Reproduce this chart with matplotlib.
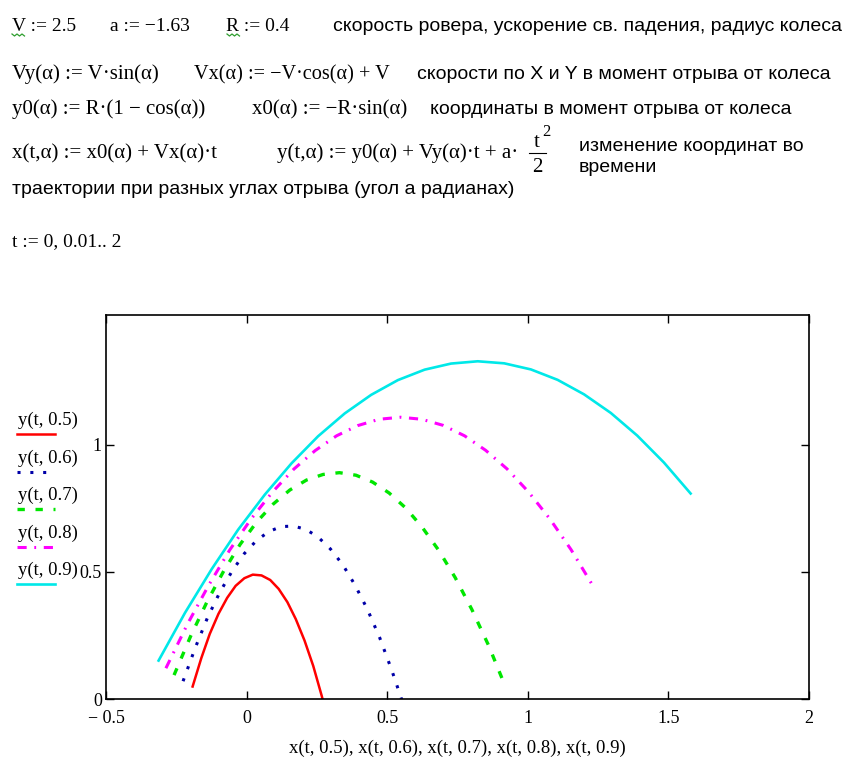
import matplotlib.pyplot as plt
from matplotlib.lines import Line2D

W, H = 863, 767

# trajectories, t = 0 .. 2 step 0.1
x_05 = [-0.192, -0.161, -0.131, -0.100, -0.069, -0.039, -0.008, 0.022, 0.053,
        0.084, 0.114, 0.145, 0.175, 0.206, 0.237, 0.267, 0.298]
y_05 = [0.049, 0.161, 0.256, 0.335, 0.398, 0.445, 0.475, 0.489, 0.486,
        0.468, 0.433, 0.381, 0.314, 0.230, 0.130, 0.013, -0.120]

x_06 = [-0.226, -0.182, -0.139, -0.095, -0.051, -0.008, 0.036, 0.080, 0.123,
        0.167, 0.211, 0.254, 0.298, 0.342, 0.385, 0.429, 0.473, 0.516, 0.560]
y_06 = [0.070, 0.203, 0.320, 0.420, 0.504, 0.572, 0.624, 0.659, 0.678,
        0.680, 0.667, 0.637, 0.590, 0.528, 0.449, 0.354, 0.242, 0.114, -0.030]

x_07 = [-0.258, -0.199, -0.140, -0.081, -0.023, 0.036, 0.095, 0.154, 0.213,
        0.272, 0.330, 0.389, 0.448, 0.507, 0.566, 0.624, 0.683, 0.742, 0.801,
        0.860, 0.918]
y_07 = [0.094, 0.247, 0.384, 0.504, 0.608, 0.696, 0.767, 0.822, 0.861,
        0.883, 0.890, 0.880, 0.853, 0.810, 0.751, 0.676, 0.585, 0.477, 0.352,
        0.212, 0.055]

x_08 = [-0.287, -0.211, -0.135, -0.060, 0.016, 0.092, 0.168, 0.244, 0.320,
        0.395, 0.471, 0.547, 0.623, 0.699, 0.775, 0.850, 0.926, 1.002, 1.078,
        1.154, 1.230]
y_08 = [0.121, 0.293, 0.447, 0.586, 0.708, 0.814, 0.904, 0.977, 1.035,
        1.075, 1.100, 1.108, 1.100, 1.076, 1.035, 0.978, 0.905, 0.815, 0.709,
        0.587, 0.448]

x_09 = [-0.313, -0.219, -0.124, -0.030, 0.065, 0.160, 0.254, 0.349, 0.443,
        0.538, 0.633, 0.727, 0.822, 0.916, 1.011, 1.106, 1.200, 1.295, 1.389,
        1.484, 1.579]
y_09 = [0.151, 0.339, 0.511, 0.666, 0.804, 0.927, 1.033, 1.123, 1.196,
        1.254, 1.295, 1.319, 1.328, 1.320, 1.296, 1.255, 1.198, 1.125, 1.036,
        0.930, 0.808]

legend_labels = ["y(t, 0.5)", "y(t, 0.6)", "y(t, 0.7)", "y(t, 0.8)", "y(t, 0.9)"]
xtick_vals = [-0.5, 0, 0.5, 1, 1.5, 2]
xtick_text = ["\u2212 0.5", "0", "0.5", "1", "1.5", "2"]
ytick_vals = [0, 0.5, 1]
ytick_text = ["0", "0.5", "1"]

xs = [x_05, x_06, x_07, x_08, x_09]
ys = [y_05, y_06, y_07, y_08, y_09]
colors = ["#ff0000", "#0000a8", "#00e600", "#ff00ff", "#00e8e8"]
styles = ["-", (0, (1, 3.2)), (0, (2.2, 3.2)), (0, (3, 2.5, 0.6, 2.5)), "-"]
widths = [1.8, 2.2, 2.4, 2.2, 1.9]

SERIF = "Liberation Serif"
SANS = "Liberation Sans"

fig = plt.figure(figsize=(W / 100, H / 100), dpi=100)


def txt(x, y, s, fam=SERIF, size=15, **kw):
    fig.text(x / W, 1 - y / H, s, family=fam, fontsize=size,
             ha=kw.pop("ha", "left"), va=kw.pop("va", "baseline"), **kw)


# worksheet lines above the plot
txt(12, 31, "V := 2.5", size=14)
txt(110, 31, "a := \u22121.63", size=14)
txt(226, 31, "R := 0.4", size=14)
txt(333, 31, "скорость ровера, ускорение св. падения, радиус колеса", fam=SANS, size=14)

# green wavy marks under V and R
for x0 in (12, 227):
    fig.add_artist(Line2D([(x0 + k * 2.5) / W for k in range(6)],
                          [1 - (34 + (k % 2) * 2) / H for k in range(6)],
                          color="#2e9e2e", lw=0.9))

txt(12, 79, "Vy(\u03b1) := V\u00b7sin(\u03b1)")
txt(194, 79, "Vx(\u03b1) := \u2212V\u00b7cos(\u03b1) + V", size=14.6)
txt(417, 79, "скорости по X и Y в момент отрыва от колеса", fam=SANS, size=14)

txt(12, 114, "y0(\u03b1) := R\u00b7(1 \u2212 cos(\u03b1))")
txt(252, 114, "x0(\u03b1) := \u2212R\u00b7sin(\u03b1)")
txt(430, 114, "координаты в момент отрыва от колеса", fam=SANS, size=14)

txt(12, 158, "x(t,\u03b1) := x0(\u03b1) + Vx(\u03b1)\u00b7t")
txt(277, 158, "y(t,\u03b1) := y0(\u03b1) + Vy(\u03b1)\u00b7t + a\u00b7")
txt(537, 147, "t", ha="center")
txt(546, 136, "2", size=12, ha="center")
fig.add_artist(Line2D([529 / W, 546 / W], [1 - 153 / H, 1 - 153 / H],
                      color="black", lw=0.8))
txt(537, 172, "2", ha="center")
txt(579, 151, "изменение координат во", fam=SANS, size=14)
txt(579, 172, "времени", fam=SANS, size=14)

txt(12, 194, "траектории при разных углах отрыва (угол а радианах)", fam=SANS, size=14)
txt(12, 246, "t := 0, 0.01.. 2", size=14)

# plot
ax = fig.add_axes([106 / W, 1 - 699 / H, (809 - 106) / W, (699 - 315) / H])
for x, y, c, ls, lw in zip(xs, ys, colors, styles, widths):
    ax.plot(x, y, color=c, linestyle=ls, linewidth=lw)

ax.set_xlim(-0.5, 2.0)
ax.set_ylim(0, 1.51)
ax.set_xticks(xtick_vals)
ax.set_xticklabels(xtick_text, family=SERIF, fontsize=13)
ax.set_yticks(ytick_vals)
ax.set_yticklabels(ytick_text, family=SERIF, fontsize=13)
ax.tick_params(direction="in", top=True, right=True, length=6, width=1)
ax.tick_params(axis="x", pad=8)
ax.tick_params(axis="y", pad=3)
for sp in ax.spines.values():
    sp.set_linewidth(1.2)
ax.set_xlabel("x(t, 0.5), x(t, 0.6), x(t, 0.7), x(t, 0.8), x(t, 0.9)",
              family=SERIF, fontsize=13.5, labelpad=9)

# legend on the left, label with its line sample beneath
for i, lab in enumerate(legend_labels):
    ly = 425 + i * 37.5
    txt(18, ly, lab, size=13.5)
    fig.add_artist(Line2D([17 / W, 55 / W], [1 - (ly + 9) / H, 1 - (ly + 9) / H],
                          color=colors[i], linestyle=styles[i],
                          linewidth=widths[i]))

fig.savefig("out.png", dpi=100)
